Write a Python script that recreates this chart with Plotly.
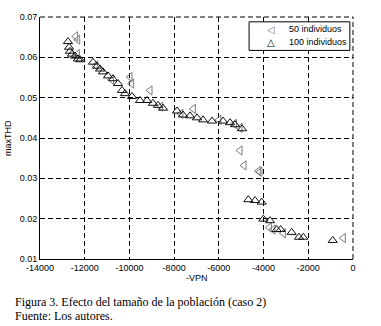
import plotly.graph_objects as go

# 100 individuos (triangle-up, black)
x100 = [-12748, -12700, -12658, -12569, -12434, -12300, -12200,
        -11630, -11450, -11316, -11182, -10958, -10735, -10511, -10332, -10198, -9885,
        -9527, -9213, -8946, -8722, -8498, -7872, -7604, -7290, -6977, -6709, -6306,
        -5814, -5500, -5277, -4964,
        -4682, -4383, -4084, -4010, -3712, -3414, -3236, -2744, -2416, -2222, -907]
y100 = [0.0639, 0.0625, 0.0615, 0.0608, 0.0603, 0.0596, 0.0594,
        0.0588, 0.0578, 0.0571, 0.0564, 0.0554, 0.0547, 0.0535, 0.0518, 0.0510, 0.0503,
        0.0493, 0.0493, 0.0486, 0.0481, 0.0474, 0.0467, 0.0457, 0.0455, 0.0450, 0.0445, 0.0442,
        0.0442, 0.0438, 0.0433, 0.0423,
        0.0247, 0.0245, 0.0241, 0.0199, 0.0195, 0.0173, 0.0173, 0.0166, 0.0154, 0.0154, 0.0146]

# 50 individuos (triangle-left, gray)
x50 = [-12403, -12314, -12330, -11500, -10800, -9974, -9900, -9080, -8600, -7700, -7142,
       -6000, -5300, -5054, -5054, -4875, -4235, -4160, -3742, -3578, -3117, -433]
y50 = [0.0652, 0.0644, 0.0608, 0.0580, 0.0545, 0.0551, 0.0535, 0.0518, 0.0478, 0.0460, 0.0472,
       0.0445, 0.0435, 0.0425, 0.0369, 0.0332, 0.0318, 0.0316, 0.0178, 0.0173, 0.0164, 0.0152]

series_names = ["50 individuos", "100 individuos"]
xticks = [-14000, -12000, -10000, -8000, -6000, -4000, -2000, 0]
yticks = [0.01, 0.02, 0.03, 0.04, 0.05, 0.06, 0.07]

GRAY = "#7a7a7a"
BLACK = "#111111"

fig = go.Figure()
fig.add_trace(go.Scatter(
    x=x50, y=y50, mode="markers", name=series_names[0], showlegend=False,
    marker=dict(symbol="triangle-left-open", size=8, color=GRAY, line=dict(width=1))))
fig.add_trace(go.Scatter(
    x=x100, y=y100, mode="markers", name=series_names[1], showlegend=False,
    marker=dict(symbol="triangle-up-open", size=8, color=BLACK, line=dict(width=1))))

axfont = dict(family="Liberation Sans, Arial", size=9, color="black")
fig.update_xaxes(range=[-14000, 0], tickvals=xticks, ticktext=[str(v) for v in xticks],
                 showgrid=True, gridcolor="black", griddash="5px,3px", gridwidth=1,
                 zeroline=False, showline=True, linecolor="black", linewidth=1,
                 ticks="", tickfont=axfont)
fig.update_yaxes(range=[0.01, 0.07], tickvals=yticks, ticktext=["%.2f" % v for v in yticks],
                 showgrid=True, gridcolor="black", griddash="5px,3px", gridwidth=1,
                 zeroline=False, showline=True, linecolor="black", linewidth=1,
                 ticks="", tickfont=axfont)

# dashed top/right borders (MATLAB style)
fig.add_shape(type="line", xref="paper", yref="paper", x0=0, x1=1, y0=1, y1=1,
              line=dict(color="black", width=1, dash="5px,3px"))
fig.add_shape(type="line", xref="paper", yref="paper", x0=1, x1=1, y0=0, y1=1,
              line=dict(color="black", width=1, dash="5px,3px"))

# axis titles
fig.add_annotation(text="-VPN", xref="paper", yref="paper", x=0.5, y=-0.078,
                   xanchor="center", yanchor="middle", showarrow=False, font=axfont)
fig.add_annotation(text="maxTHD", xref="paper", yref="paper", x=-0.102, y=0.5,
                   xanchor="center", yanchor="middle", textangle=-90, showarrow=False, font=axfont)

# legend box (MATLAB style)
fig.add_shape(type="rect", xref="paper", yref="paper", x0=0.668, x1=0.990, y0=0.862, y1=0.980,
              line=dict(color="black", width=1), fillcolor="white", layer="above")
legfont = dict(family="Liberation Sans, Arial", size=9, color="black")
fig.add_annotation(text="◁", xref="paper", yref="paper", x=0.738, y=0.950,
                   xanchor="center", yanchor="middle", showarrow=False,
                   font=dict(family="DejaVu Sans", size=10, color=GRAY))
fig.add_annotation(text="△", xref="paper", yref="paper", x=0.738, y=0.896,
                   xanchor="center", yanchor="middle", showarrow=False,
                   font=dict(family="DejaVu Sans", size=10, color=BLACK))
fig.add_annotation(text=series_names[0], xref="paper", yref="paper", x=0.789, y=0.950,
                   xanchor="left", yanchor="middle", showarrow=False, font=legfont)
fig.add_annotation(text=series_names[1], xref="paper", yref="paper", x=0.789, y=0.896,
                   xanchor="left", yanchor="middle", showarrow=False, font=legfont)

fig.update_layout(
    width=381, height=326,
    margin=dict(l=40, r=28, t=12, b=67),
    paper_bgcolor="white", plot_bgcolor="white",
    showlegend=False,
)

capfont = dict(family="Liberation Serif, Times New Roman", size=12, color="black")
fig.add_annotation(text="Figura 3. Efecto del tamaño de la población (caso 2)",
                   xref="paper", yref="paper", x=-0.086, y=-0.178, xanchor="left", yanchor="middle",
                   showarrow=False, font=capfont)
fig.add_annotation(text="Fuente: Los autores.",
                   xref="paper", yref="paper", x=-0.086, y=-0.235, xanchor="left", yanchor="middle",
                   showarrow=False, font=capfont)

fig.write_html("out.html", config={"displayModeBar": False},
               post_script="document.body.style.margin='0px';document.body.style.padding='0px';")
